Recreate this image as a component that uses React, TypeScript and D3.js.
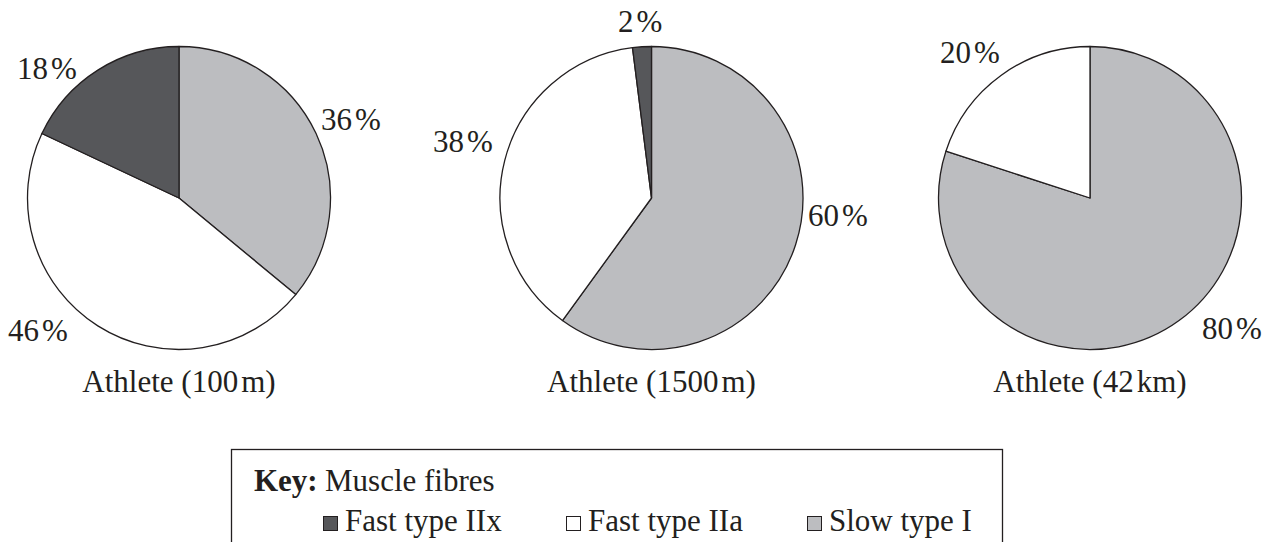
import React from "react";
import * as d3 from "d3";

// Fibre types, in the order the slices run clockwise from 12 o'clock
const fibreTypes = ["Slow type I", "Fast type IIa", "Fast type IIx"];
const fibreColors = ["#bcbdc0", "#ffffff", "#56575a"];

// Athlete events and fibre percentages (Slow I, Fast IIa, Fast IIx)
const athletes = ["Athlete (100", "Athlete (1500", "Athlete (42"];
const athleteUnits = ["m)", "m)", "km)"];
const slowTypeI = [36, 60, 80];
const fastTypeIIa = [46, 38, 20];
const fastTypeIIx = [18, 2, 0];

// Legend entries, in display order
const legendTypes = ["Fast type IIx", "Fast type IIa", "Slow type I"];

const W = 1276;
const H = 542;
const FONT = "Liberation Serif, Times New Roman, DejaVu Serif, serif";
const INK = "#231f20";

const centers = [
  { x: 179, y: 198 },
  { x: 651.5, y: 198 },
  { x: 1090, y: 198 },
];
const R = 151.5;

// Label anchors per pie, per slice (start-aligned text positions)
const labelPos = [
  [
    { x: 321, y: 130 },
    { x: 8, y: 341 },
    { x: 17, y: 79 },
  ],
  [
    { x: 808, y: 226 },
    { x: 433, y: 152 },
    { x: 618, y: 32 },
  ],
  [
    { x: 1202, y: 339 },
    { x: 940, y: 63 },
    null,
  ],
];

const textStyle = { fontFamily: FONT };

export default function App() {
  const pie = d3
    .pie<number>()
    .sort(null)
    .value((d) => d)
    .startAngle(0)
    .endAngle(2 * Math.PI);
  const arc = d3.arc<d3.PieArcDatum<number>>().innerRadius(0).outerRadius(R);

  const legendColor = (name: string) => fibreColors[fibreTypes.indexOf(name)];
  const legendX = [323, 566, 807];

  return (
    <svg
      width={W}
      height={H}
      style={{ position: "absolute", left: 0, top: 0, background: "#fff", fontFamily: FONT }}
    >
      {athletes.map((name, i) => {
        const values = [slowTypeI[i], fastTypeIIa[i], fastTypeIIx[i]];
        const arcs = pie(values);
        const c = centers[i];
        return (
          <g key={name}>
            <g transform={`translate(${c.x},${c.y})`}>
              {arcs
                .filter((a) => a.value > 0)
                .map((a, j) => (
                  <path
                    key={j}
                    d={arc(a) || ""}
                    fill={fibreColors[a.index]}
                    stroke={INK}
                    strokeWidth={1.3}
                    strokeLinejoin="round"
                  />
                ))}
            </g>
            {values.map((v, j) => {
              const p = labelPos[i][j];
              if (!p || v <= 0) return null;
              return (
                <text key={j} x={p.x} y={p.y} fontSize={31} fill={INK} style={textStyle}>
                  {v}
                  <tspan dx={3}>%</tspan>
                </text>
              );
            })}
            <text x={c.x} y={392} fontSize={31} textAnchor="middle" fill={INK} style={textStyle}>
              {name}
              <tspan dx={3}>{athleteUnits[i]}</tspan>
            </text>
          </g>
        );
      })}

      <rect
        x={231.5}
        y={449.5}
        width={771}
        height={110}
        fill="none"
        stroke={INK}
        strokeWidth={1.3}
      />
      <text x={254} y={491} fontSize={31} fill={INK} style={textStyle}>
        <tspan fontWeight="bold">Key:</tspan>
      </text>
      <text x={325} y={491} fontSize={31} fill={INK} style={textStyle}>
        Muscle fibres
      </text>
      {legendTypes.map((t, k) => (
        <g key={t}>
          <rect
            x={legendX[k] + 0.5}
            y={516.5}
            width={14}
            height={14}
            fill={legendColor(t)}
            stroke={INK}
            strokeWidth={1}
          />
          <text x={legendX[k] + 22} y={531} fontSize={31} fill={INK} style={textStyle}>
            {t}
          </text>
        </g>
      ))}
    </svg>
  );
}
